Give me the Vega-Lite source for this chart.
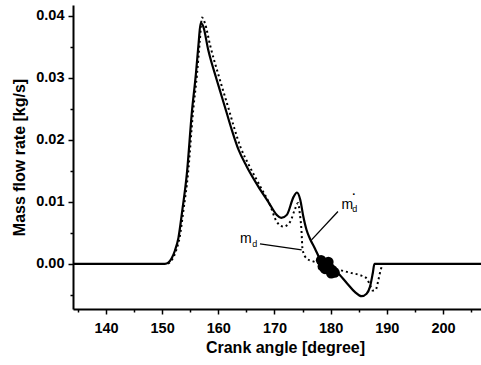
{
  "$schema": "https://vega.github.io/schema/vega-lite/v6.json",
  "width": 408,
  "height": 304,
  "autosize": {"type": "none"},
  "padding": {"left": 73, "top": 5, "right": 0, "bottom": 56},
  "background": "white",
  "config": {
    "view": {"stroke": null},
    "font": "Liberation Sans",
    "axis": {"grid": false, "domainColor": "black", "tickColor": "black", "labelColor": "black", "titleColor": "black", "labelFont": "Liberation Sans", "titleFont": "Liberation Sans"}
  },
  "datasets": {
    "curves": [
      {"angle": 134.13, "flow": 0, "series": "solid"},
      {"angle": 150.5, "flow": 0, "series": "solid"},
      {"angle": 151.1, "flow": 0.0002, "series": "solid"},
      {"angle": 151.7, "flow": 0.0009, "series": "solid"},
      {"angle": 152.3, "flow": 0.0022, "series": "solid"},
      {"angle": 152.9, "flow": 0.0042, "series": "solid"},
      {"angle": 153.6, "flow": 0.0087, "series": "solid"},
      {"angle": 154.4, "flow": 0.0145, "series": "solid"},
      {"angle": 155.3, "flow": 0.0245, "series": "solid"},
      {"angle": 156.0, "flow": 0.0305, "series": "solid"},
      {"angle": 156.5, "flow": 0.0356, "series": "solid"},
      {"angle": 156.85, "flow": 0.0388, "series": "solid"},
      {"angle": 157.3, "flow": 0.0383, "series": "solid"},
      {"angle": 158.2, "flow": 0.0345, "series": "solid"},
      {"angle": 159.7, "flow": 0.0297, "series": "solid"},
      {"angle": 160.6, "flow": 0.027, "series": "solid"},
      {"angle": 161.5, "flow": 0.0243, "series": "solid"},
      {"angle": 162.4, "flow": 0.0216, "series": "solid"},
      {"angle": 163.6, "flow": 0.0184, "series": "solid"},
      {"angle": 165.05, "flow": 0.0157, "series": "solid"},
      {"angle": 167.1, "flow": 0.0125, "series": "solid"},
      {"angle": 168.9, "flow": 0.01, "series": "solid"},
      {"angle": 170.4, "flow": 0.0079, "series": "solid"},
      {"angle": 171.2, "flow": 0.0074, "series": "solid"},
      {"angle": 172.2, "flow": 0.0079, "series": "solid"},
      {"angle": 173.4, "flow": 0.0108, "series": "solid"},
      {"angle": 174.0, "flow": 0.0115, "series": "solid"},
      {"angle": 174.6, "flow": 0.0103, "series": "solid"},
      {"angle": 175.1, "flow": 0.0078, "series": "solid"},
      {"angle": 175.7, "flow": 0.0055, "series": "solid"},
      {"angle": 176.3, "flow": 0.0041, "series": "solid"},
      {"angle": 177.2, "flow": 0.0025, "series": "solid"},
      {"angle": 178.1, "flow": 0.0008, "series": "solid"},
      {"angle": 179.3, "flow": -0.0003, "series": "solid"},
      {"angle": 181.1, "flow": -0.0013, "series": "solid"},
      {"angle": 182.9, "flow": -0.0031, "series": "solid"},
      {"angle": 184.3, "flow": -0.0045, "series": "solid"},
      {"angle": 185.5, "flow": -0.0052, "series": "solid"},
      {"angle": 186.4, "flow": -0.0048, "series": "solid"},
      {"angle": 187.0, "flow": -0.0037, "series": "solid"},
      {"angle": 187.5, "flow": -0.0015, "series": "solid"},
      {"angle": 187.8, "flow": 0, "series": "solid"},
      {"angle": 206.77, "flow": 0, "series": "solid"},
      {"angle": 134.13, "flow": 0, "series": "dotted"},
      {"angle": 150.7, "flow": 0, "series": "dotted"},
      {"angle": 151.3, "flow": 0.0002, "series": "dotted"},
      {"angle": 151.9, "flow": 0.0009, "series": "dotted"},
      {"angle": 152.5, "flow": 0.0022, "series": "dotted"},
      {"angle": 153.1, "flow": 0.0042, "series": "dotted"},
      {"angle": 153.8, "flow": 0.0087, "series": "dotted"},
      {"angle": 154.6, "flow": 0.0145, "series": "dotted"},
      {"angle": 155.5, "flow": 0.0245, "series": "dotted"},
      {"angle": 156.2, "flow": 0.0305, "series": "dotted"},
      {"angle": 156.7, "flow": 0.0358, "series": "dotted"},
      {"angle": 157.1, "flow": 0.0397, "series": "dotted"},
      {"angle": 157.6, "flow": 0.0388, "series": "dotted"},
      {"angle": 158.6, "flow": 0.035, "series": "dotted"},
      {"angle": 160.1, "flow": 0.0302, "series": "dotted"},
      {"angle": 161.0, "flow": 0.0275, "series": "dotted"},
      {"angle": 161.9, "flow": 0.0248, "series": "dotted"},
      {"angle": 162.8, "flow": 0.022, "series": "dotted"},
      {"angle": 164.0, "flow": 0.0187, "series": "dotted"},
      {"angle": 165.4, "flow": 0.016, "series": "dotted"},
      {"angle": 167.4, "flow": 0.0126, "series": "dotted"},
      {"angle": 169.2, "flow": 0.0095, "series": "dotted"},
      {"angle": 170.4, "flow": 0.0068, "series": "dotted"},
      {"angle": 171.6, "flow": 0.006, "series": "dotted"},
      {"angle": 172.8, "flow": 0.0068, "series": "dotted"},
      {"angle": 173.6, "flow": 0.0087, "series": "dotted"},
      {"angle": 174.2, "flow": 0.0098, "series": "dotted"},
      {"angle": 174.5, "flow": 0.0082, "series": "dotted"},
      {"angle": 174.8, "flow": 0.0055, "series": "dotted"},
      {"angle": 175.0, "flow": 0.0023, "series": "dotted"},
      {"angle": 175.7, "flow": 0.0009, "series": "dotted"},
      {"angle": 176.9, "flow": 0.0004, "series": "dotted"},
      {"angle": 178.0, "flow": 0.0001, "series": "dotted"},
      {"angle": 179.8, "flow": -0.0006, "series": "dotted"},
      {"angle": 181.7, "flow": -0.001, "series": "dotted"},
      {"angle": 183.4, "flow": -0.0014, "series": "dotted"},
      {"angle": 185.2, "flow": -0.0018, "series": "dotted"},
      {"angle": 186.4, "flow": -0.0023, "series": "dotted"},
      {"angle": 187.0, "flow": -0.0034, "series": "dotted"},
      {"angle": 187.5, "flow": -0.0043, "series": "dotted"},
      {"angle": 188.0, "flow": -0.0042, "series": "dotted"},
      {"angle": 188.5, "flow": -0.0026, "series": "dotted"},
      {"angle": 188.9, "flow": -0.001, "series": "dotted"},
      {"angle": 189.2, "flow": -0.0002, "series": "dotted"},
      {"angle": 189.3, "flow": 0, "series": "dotted"},
      {"angle": 206.77, "flow": 0, "series": "dotted"}
    ],
    "blob": [
      {"angle": 178.3, "flow": 0.0006},
      {"angle": 178.8, "flow": 0.0002},
      {"angle": 179.3, "flow": -0.0002},
      {"angle": 179.8, "flow": -0.0006},
      {"angle": 180.3, "flow": -0.001},
      {"angle": 180.7, "flow": -0.0014},
      {"angle": 179.0, "flow": -0.0008},
      {"angle": 179.6, "flow": 0.0003},
      {"angle": 180.1, "flow": -0.0015},
      {"angle": 178.6, "flow": -0.0004}
    ],
    "leaders": [
      {"angle": 181.3, "flow": 0.00844, "angle2": 176.6, "flow2": 0.00387},
      {"angle": 167.42, "flow": 0.00323, "angle2": 174.84, "flow2": 0.00226}
    ],
    "labels": [
      {"angle": 181.93, "flow": 0.00887, "text": "m", "part": "letter"},
      {"angle": 163.86, "flow": 0.00344, "text": "m", "part": "letter"},
      {"angle": 183.85, "flow": 0.00835, "text": "d", "part": "subscript"},
      {"angle": 166.05, "flow": 0.0027, "text": "d", "part": "subscript"},
      {"angle": 183.85, "flow": 0.0111, "text": ".", "part": "dot"}
    ]
  },
  "layer": [
    {
      "data": {"name": "curves"},
      "transform": [{"filter": "datum.series == 'solid'"}],
      "mark": {"type": "line", "color": "black", "strokeWidth": 2.2, "clip": true, "interpolate": "monotone"},
      "encoding": {
        "x": {"field": "angle", "type": "quantitative", "scale": {"domain": [134.13, 206.77], "nice": false, "zero": false},
          "axis": {"orient": "bottom", "values": [140, 150, 160, 170, 180, 190, 200], "format": "d", "tickSize": 5, "tickWidth": 1.5, "domainWidth": 2, "labelFontSize": 14.5, "labelFontWeight": "bold", "labelPadding": 7, "title": "Crank angle [degree]", "titleFontSize": 16, "titleFontWeight": "bold", "titlePadding": 5, "titleX": 212}},
        "y": {"field": "flow", "type": "quantitative", "scale": {"domain": [-0.00726, 0.0417], "nice": false, "zero": false},
          "axis": {"orient": "left", "values": [0, 0.01, 0.02, 0.03, 0.04], "format": ".2f", "tickSize": 5, "tickWidth": 1.5, "domainWidth": 2, "labelFontSize": 14.5, "labelFontWeight": "bold", "labelPadding": 4, "title": "Mass flow rate [kg/s]", "titleFontSize": 16, "titleFontWeight": "bold", "titlePadding": 8}}
      }
    },
    {
      "data": {"name": "curves"},
      "transform": [{"filter": "datum.series == 'dotted'"}],
      "mark": {"type": "line", "color": "black", "strokeWidth": 2, "strokeDash": [2, 3], "clip": true, "interpolate": "monotone"},
      "encoding": {
        "x": {"field": "angle", "type": "quantitative", "scale": {"domain": [134.13, 206.77], "nice": false, "zero": false},
          "axis": {"orient": "bottom", "values": [135, 145, 155, 165, 175, 185, 195, 205], "labels": false, "domain": false, "tickSize": 3, "tickWidth": 1.5, "title": null}},
        "y": {"field": "flow", "type": "quantitative", "scale": {"domain": [-0.00726, 0.0417], "nice": false, "zero": false},
          "axis": {"orient": "left", "values": [-0.005, 0.005, 0.015, 0.025, 0.035], "labels": false, "domain": false, "tickSize": 3, "tickWidth": 1.5, "title": null}}
      }
    },
    {
      "data": {"name": "blob"},
      "mark": {"type": "point", "filled": true, "color": "black", "opacity": 1, "size": 110},
      "encoding": {
        "x": {"field": "angle", "type": "quantitative", "axis": null},
        "y": {"field": "flow", "type": "quantitative", "axis": null}
      }
    },
    {
      "data": {"name": "leaders"},
      "mark": {"type": "rule", "color": "black", "strokeWidth": 1.3},
      "encoding": {
        "x": {"field": "angle", "type": "quantitative", "axis": null},
        "y": {"field": "flow", "type": "quantitative", "axis": null},
        "x2": {"field": "angle2"},
        "y2": {"field": "flow2"}
      }
    },
    {
      "data": {"name": "labels"},
      "transform": [{"filter": "datum.part == 'letter'"}],
      "mark": {"type": "text", "align": "left", "baseline": "alphabetic", "fontSize": 14, "font": "Liberation Sans", "color": "black"},
      "encoding": {
        "x": {"field": "angle", "type": "quantitative", "axis": null},
        "y": {"field": "flow", "type": "quantitative", "axis": null},
        "text": {"field": "text"}
      }
    },
    {
      "data": {"name": "labels"},
      "transform": [{"filter": "datum.part == 'subscript'"}],
      "mark": {"type": "text", "align": "left", "baseline": "alphabetic", "fontSize": 9, "font": "Liberation Sans", "color": "black"},
      "encoding": {
        "x": {"field": "angle", "type": "quantitative", "axis": null},
        "y": {"field": "flow", "type": "quantitative", "axis": null},
        "text": {"field": "text"}
      }
    },
    {
      "data": {"name": "labels"},
      "transform": [{"filter": "datum.part == 'dot'"}],
      "mark": {"type": "text", "align": "left", "baseline": "alphabetic", "fontSize": 11, "fontWeight": "bold", "font": "Liberation Sans", "color": "black"},
      "encoding": {
        "x": {"field": "angle", "type": "quantitative", "axis": null},
        "y": {"field": "flow", "type": "quantitative", "axis": null},
        "text": {"field": "text"}
      }
    },
    {
      "mark": {"type": "rule", "color": "black", "strokeWidth": 2},
      "encoding": {"y": {"datum": 0.0417, "type": "quantitative", "axis": null}}
    }
  ],
  "resolve": {"axis": {"x": "independent", "y": "independent"}}
}
